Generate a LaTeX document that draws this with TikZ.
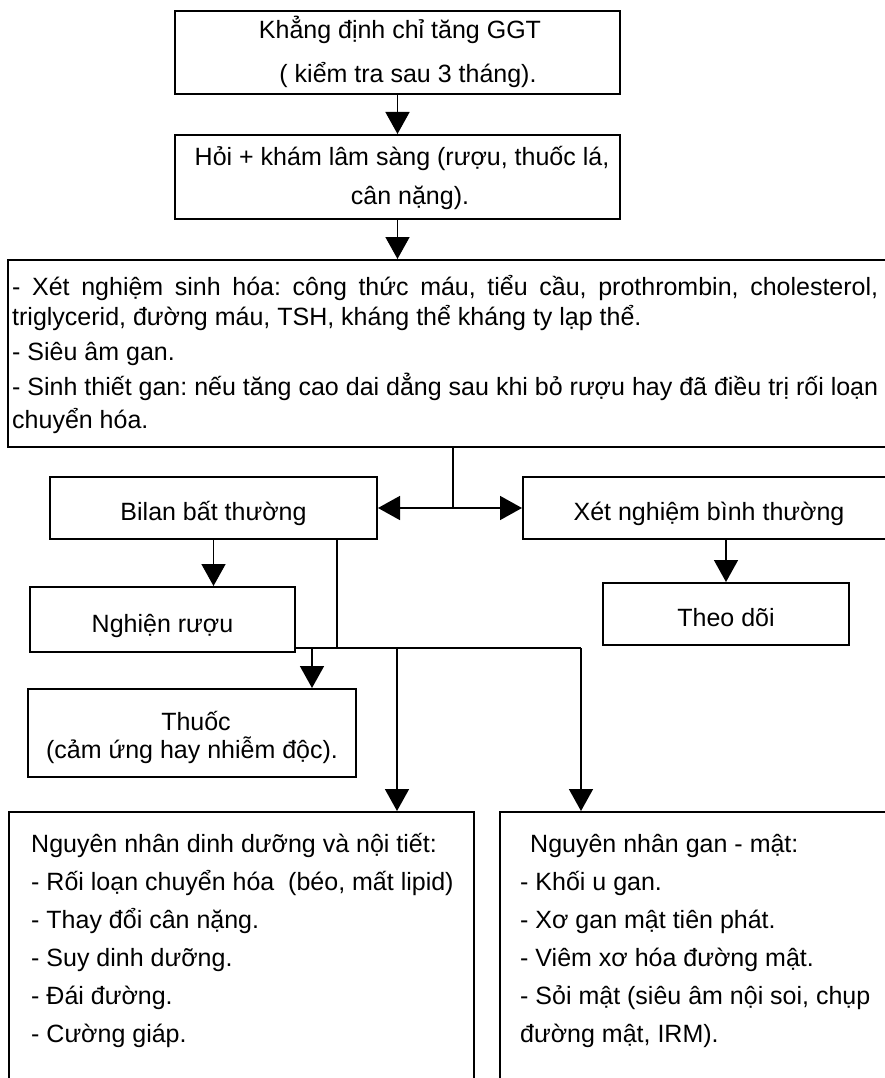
\documentclass[tikz,border=0pt]{standalone}
\usepackage{fontspec}
\setmainfont{Liberation Sans}
\usetikzlibrary{arrows.meta}

\tikzset{
  box/.style={draw, line width=2pt, inner sep=0pt},
  txt/.style={font=\fontsize{25}{30}\selectfont\frenchspacing, inner sep=0pt, text height=18pt, text depth=5pt},
  boxtxt/.style={txt, text height=27pt, text depth=2pt},
  link/.style={line width=1.6pt},
  arr/.style={link, -{Triangle[length=22pt,width=24pt]}},
  biarr/.style={link, {Triangle[length=22pt,width=24pt]}-{Triangle[length=22pt,width=24pt]}},
}

\begin{document}
\begin{tikzpicture}[x=1pt,y=-1pt]
\useasboundingbox (0,0) rectangle (885,1078);
\clip (0,0) rectangle (885,1078);

% boxes
\node[box, minimum width=445pt, minimum height=83pt] (b1) at (397.5,52.5) {};
\node[box, minimum width=445pt, minimum height=84pt] (b2) at (397.5,177) {};
\node[box, minimum width=887pt, minimum height=187pt] (b3) at (451.5,353.5) {};
\node[box, boxtxt, minimum width=327pt, minimum height=62pt] (bilan) at (213.5,508) {Bilan bất thường};
\node[box, boxtxt, minimum width=372pt, minimum height=62pt] (xet) at (709,508) {Xét nghiệm bình thường};
\node[box, boxtxt, minimum width=265pt, minimum height=65pt] (nghien) at (162.5,619.5) {Nghiện rượu};
\node[box, boxtxt, minimum width=246pt, minimum height=62pt] (theo) at (726,614) {Theo dõi};
\node[box, minimum width=328pt, minimum height=88pt] (thuoc) at (192,733) {};
\node[box, minimum width=465pt, minimum height=267pt] (left) at (241.5,945.5) {};
\node[box, minimum width=395pt, minimum height=267pt] (right) at (697.5,945.5) {};

% texts of the upper boxes
\node[txt] (t1a) at (400,32) {Khẳng định chỉ tăng GGT};
\node[txt] (t1b) at (408,76) {( kiểm tra sau 3 tháng).};
\node[txt] (t2a) at (402,159) {Hỏi + khám lâm sàng (rượu, thuốc lá,};
\node[txt] (t2b) at (410,198) {cân nặng).};

% tests box
\node[txt, anchor=west] (t3a) at (12,289) {\makebox[866pt][s]{- Xét nghiệm sinh hóa: công thức máu, tiểu cầu, prothrombin, cholesterol,}};
\node[txt, anchor=west] (t3b) at (12,319) {triglycerid, đường máu, TSH, kháng thể kháng ty lạp thể.};
\node[txt, anchor=west] (t3c) at (12,354) {- Siêu âm gan.};
\node[txt, anchor=west] (t3d) at (12,389) {\makebox[866pt][s]{- Sinh thiết gan: nếu tăng cao dai dẳng sau khi bỏ rượu hay đã điều trị rối loạn}};
\node[txt, anchor=west] (t3e) at (12,422) {chuyển hóa.};

% drug box
\node[txt] (tda) at (196,724) {Thuốc};
\node[txt] (tdb) at (192,752) {(cảm ứng hay nhiễm độc).};

% cause boxes
\node[txt, anchor=west] (la) at (31,846) {Nguyên nhân dinh dưỡng và nội tiết:};
\node[txt, anchor=west] (lb) at (31,884) {- Rối loạn chuyển hóa\ \ (béo, mất lipid)};
\node[txt, anchor=west] (lc) at (31,922) {- Thay đổi cân nặng.};
\node[txt, anchor=west] (ld) at (31,960) {- Suy dinh dưỡng.};
\node[txt, anchor=west] (le) at (31,998) {- Đái đường.};
\node[txt, anchor=west] (lf) at (31,1036) {- Cường giáp.};

\node[txt, anchor=west] (ra) at (530,846) {Nguyên nhân gan - mật:};
\node[txt, anchor=west] (rb) at (520,884) {- Khối u gan.};
\node[txt, anchor=west] (rc) at (520,922) {- Xơ gan mật tiên phát.};
\node[txt, anchor=west] (rd) at (520,960) {- Viêm xơ hóa đường mật.};
\node[txt, anchor=west] (re) at (520,998) {- Sỏi mật (siêu âm nội soi, chụp};
\node[txt, anchor=west] (rf) at (520,1036) {đường mật, IRM).};

% junction points
\coordinate (j1) at (453,508);
\coordinate (j2) at (337,648);
\coordinate (j3) at (581,648);
\coordinate (j4) at (397,648);
\coordinate (j5) at (312,648);

% connectors
\draw[arr] (b1.south) -- (b2.north);
\draw[arr] (b2.south) -- (b2.south |- b3.north);
\draw[link] (b3.south -| j1) -- (j1);
\draw[biarr] (bilan.east) -- (xet.west);
\draw[arr] (bilan.south) -- (bilan.south |- nghien.north);
\draw[arr] (xet.south -| theo.north) -- (theo.north);
\draw[link] (bilan.south -| j2) -- (j2);
\draw[link] (nghien.east |- j2) -- (j3);
\draw[arr] (j5) -- (j5 |- thuoc.north);
\draw[arr] (j4) -- (j4 |- left.north);
\draw[arr] (j3) -- (j3 |- right.north);
\end{tikzpicture}
\end{document}
